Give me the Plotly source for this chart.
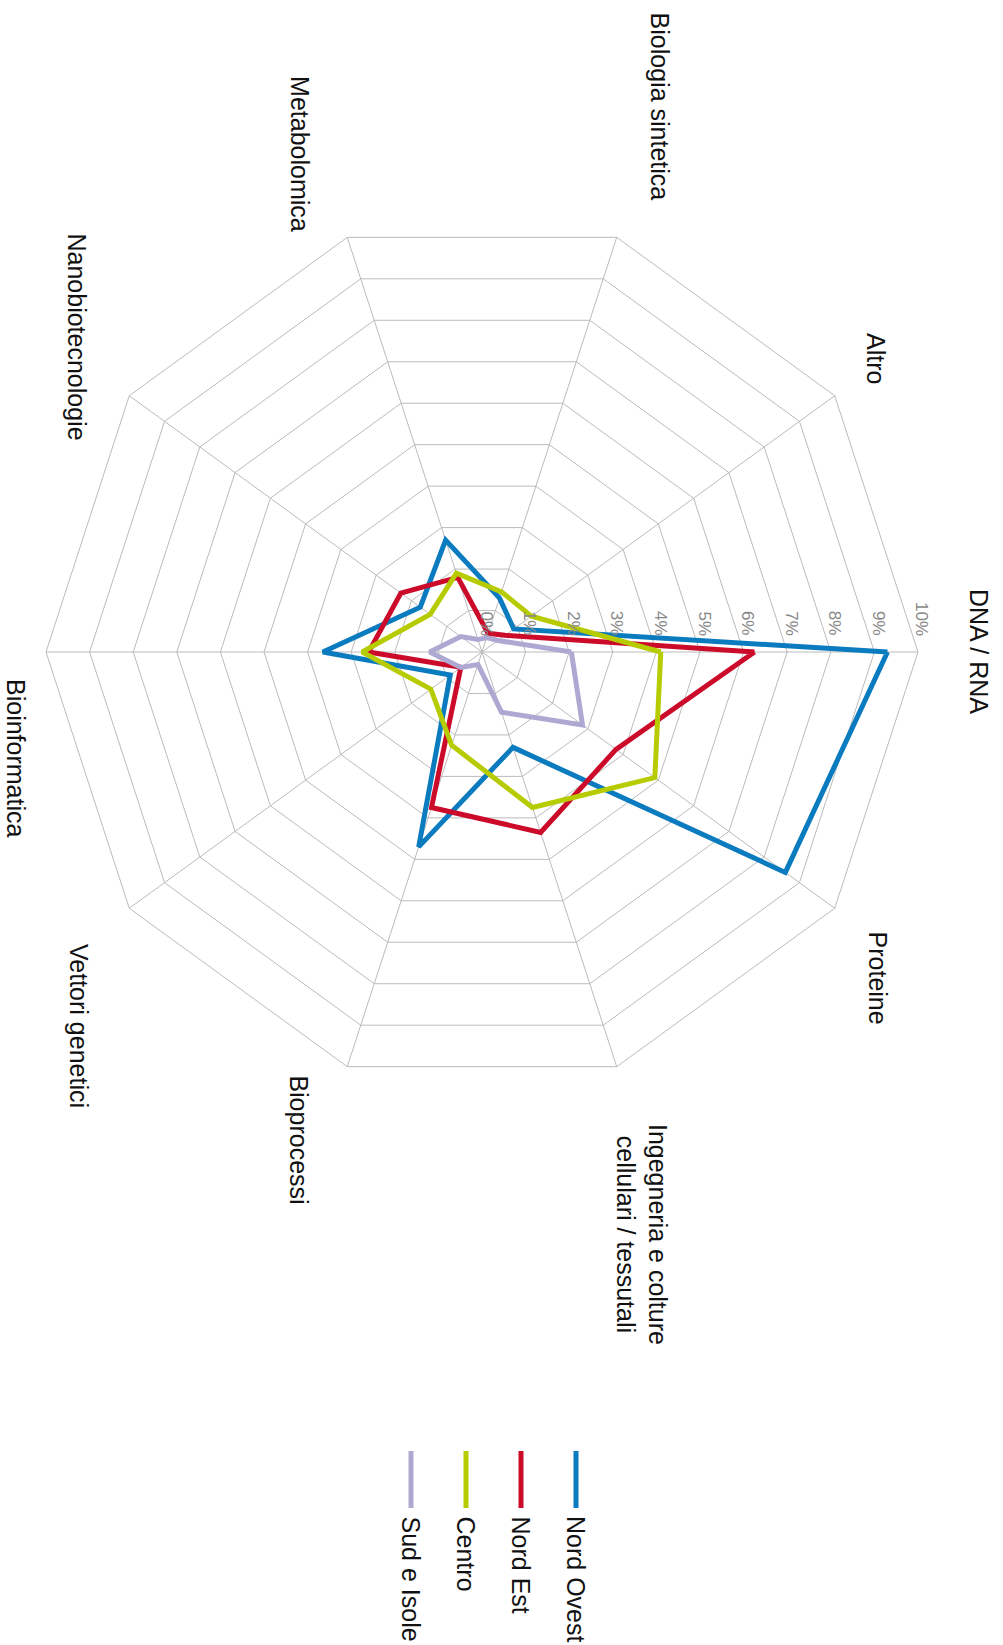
import math
import plotly.graph_objects as go

# ---------------- data ----------------
categories = ["DNA / RNA", "Proteine", "Ingegneria e colture cellulari / tessutali",
              "Bioprocessi", "Vettori genetici", "Bioinformatica",
              "Nanobiotecnologie", "Metabolomica", "Biologia sintetica", "Altro"]
category_labels = ["DNA / RNA", "Proteine", "Ingegneria e colture<br>cellulari / tessutali",
                   "Bioprocessi", "Vettori genetici", "Bioinformatica",
                   "Nanobiotecnologie", "Metabolomica", "Biologia sintetica", "Altro"]
nord_ovest = [9.3, 8.6, 2.3, 4.7, 0.9, 3.65, 1.75, 2.7, 1.3, 0.9]
nord_est = [6.25, 3.8, 4.35, 3.75, 0.6, 2.6, 2.3, 1.8, 0.45, 0.65]
centro = [4.1, 4.9, 3.75, 2.25, 1.45, 2.75, 1.47, 1.9, 1.45, 1.4]
sud_isole = [2.05, 2.85, 1.45, 0.3, 0.6, 1.2, 0.6, 0.3, 0.35, 0.45]
series_names = ["Nord Ovest", "Nord Est", "Centro", "Sud e Isole"]
radial_ticks = list(range(0, 11))
radial_ticktext = [f"{v}%" for v in radial_ticks]
radial_range = [0, 10]

# ---------------- style ----------------
W, H = 1003, 1645
FONT = "Liberation Sans, Arial, sans-serif"
colors = ["#0A7BBE", "#CC0A2A", "#B6CB00", "#AEA9D3"]
GRID = "#BBBBBB"
CX, CY, R = 482, 652, 436  # polar centre / radius in px

series = [nord_ovest, nord_est, centro, sud_isole]

fig = go.Figure()
for name, vals, col in zip(series_names, series, colors):
    fig.add_trace(go.Scatterpolar(
        r=vals + vals[:1],
        theta=categories + categories[:1],
        mode="lines",
        name=name,
        line=dict(color=col, width=5),
        showlegend=False,
        hoverinfo="name+theta+r",
    ))

fig.update_layout(
    width=W, height=H,
    margin=dict(l=0, r=0, t=0, b=0),
    paper_bgcolor="white",
    plot_bgcolor="white",
    template="none",
    font=dict(family=FONT),
    polar=dict(
        domain=dict(x=[(CX - R) / W, (CX + R) / W],
                    y=[1 - (CY + R) / H, 1 - (CY - R) / H]),
        bgcolor="white",
        gridshape="linear",
        angularaxis=dict(
            categoryorder="array", categoryarray=categories,
            direction="clockwise", rotation=0,
            showticklabels=False, ticks="",
            showline=True, linecolor=GRID, linewidth=1,
            gridcolor=GRID, gridwidth=1,
        ),
        radialaxis=dict(
            range=radial_range, angle=0,
            tickvals=radial_ticks, ticktext=radial_ticktext,
            showticklabels=False, ticks="", showline=False,
            gridcolor=GRID, gridwidth=1,
        ),
    ),
)

# ---------------- radial tick labels (rotated, above the 0° spoke) ----------------
TICK_GAP, TICK_DX = 14, 4
for v, t in zip(radial_ticks, radial_ticktext):
    px = CX + (v - radial_range[0]) / (radial_range[1] - radial_range[0]) * R
    fig.add_annotation(
        x=(px + TICK_DX) / W, y=1 - (CY - TICK_GAP) / H, xref="paper", yref="paper",
        text=t, textangle=90, showarrow=False,
        xanchor="center", yanchor="bottom",
        font=dict(family=FONT, size=17, color="#888888"),
    )

# ---------------- category labels (rotated) ----------------
# offset of the label centre from the outer vertex of its spoke (px)
label_offset = {
    "DNA / RNA": (61, -1),
    "Proteine": (43, 70),
    "Ingegneria e colture cellulari / tessutali": (25, 168),
    "Bioprocessi": (-48, 73),
    "Vettori genetici": (-51, 118),
    "Bioinformatica": (-30, 106),
    "Nanobiotecnologie": (-52, -59),
    "Metabolomica": (-48, -83),
    "Biologia sintetica": (43, -131),
    "Altro": (42, -37),
}
n = len(categories)
for k, (cat, lab) in enumerate(zip(categories, category_labels)):
    th = math.radians(k * 360 / n)
    vx, vy = CX + R * math.cos(th), CY + R * math.sin(th)
    dx, dy = label_offset[cat]
    fig.add_annotation(
        x=(vx + dx) / W, y=1 - (vy + dy) / H, xref="paper", yref="paper",
        text=lab, textangle=90, showarrow=False,
        xanchor="center", yanchor="middle", align="center",
        font=dict(family=FONT, size=25, color="#111111"),
    )

# ---------------- legend (rotated) ----------------
LEG_X0, LEG_DX, LEG_Y0, LEG_Y1, LEG_TY = 576, 55, 1451, 1508, 1514
for i, (name, col) in enumerate(zip(series_names, colors)):
    x = LEG_X0 - i * LEG_DX
    fig.add_shape(type="line", xref="paper", yref="paper",
                  x0=x / W, x1=x / W, y0=1 - LEG_Y0 / H, y1=1 - LEG_Y1 / H,
                  line=dict(color=col, width=5))
    fig.add_annotation(
        x=x / W, y=1 - LEG_TY / H, xref="paper", yref="paper",
        text=name, textangle=90, showarrow=False,
        xanchor="center", yanchor="top",
        font=dict(family=FONT, size=25, color="#111111"),
    )

fig.write_html("out.html", config={"displayModeBar": False},
               post_script="document.body.style.margin='0';document.body.style.padding='0';")
